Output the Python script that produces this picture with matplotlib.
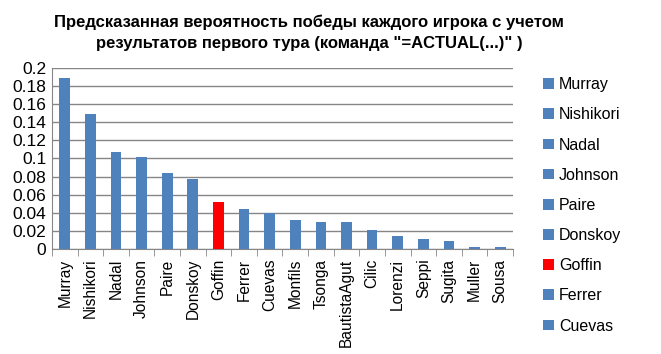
import matplotlib.pyplot as plt
from matplotlib.patches import Patch
from matplotlib.ticker import FuncFormatter, MultipleLocator

players = ["Murray", "Nishikori", "Nadal", "Johnson", "Paire", "Donskoy", "Goffin",
           "Ferrer", "Cuevas", "Monfils", "Tsonga", "BautistaAgut", "Cilic", "Lorenzi",
           "Seppi", "Sugita", "Muller", "Sousa"]
win_prob = [0.189, 0.1495, 0.1075, 0.102, 0.0843, 0.0777, 0.0516,
            0.0446, 0.0394, 0.0324, 0.0302, 0.0302, 0.0214, 0.0147,
            0.0114, 0.0092, 0.0026, 0.0026]
highlight = "Goffin"
legend_shown = 9   # the legend in the original is cut off after Cuevas

title = ('Предсказанная вероятность победы каждого игрока с учетом\n'
         'результатов первого тура (команда "=ACTUAL(...)" )')

blue = "#4F81BD"
red = "#FF0000"
colors = [red if p == highlight else blue for p in players]

plt.rcParams['font.family'] = ['Liberation Sans', 'DejaVu Sans']

fig = plt.figure(figsize=(6.61, 3.54), dpi=100)
ax = fig.add_axes([0.0787, 0.2966, 0.6973, 0.5114])

x = range(len(players))
ax.bar(x, win_prob, width=0.42, color=colors, zorder=3)

ax.set_xlim(-0.5, len(players) - 0.5)
ax.set_ylim(0, 0.2)
ax.yaxis.set_major_locator(MultipleLocator(0.02))
ax.yaxis.set_major_formatter(FuncFormatter(lambda v, pos: f"{round(v, 2):g}"))
ax.grid(axis="y", color="#868686", linewidth=1, zorder=0)

ax.set_xticks(list(x))
ax.set_xticklabels(players, rotation=90, fontsize=11.2)
ax.set_xticks([i + 0.5 for i in range(-1, len(players))], minor=True)
ax.tick_params(axis="x", which="major", length=0, pad=7)
ax.tick_params(axis="x", which="minor", length=5, color="#868686")
ax.tick_params(axis="y", length=0, labelsize=12.5, pad=4)

for side in ["top", "right"]:
    ax.spines[side].set_visible(False)
for side in ["left", "bottom"]:
    ax.spines[side].set_color("#868686")

handles = [Patch(facecolor=c, edgecolor="none") for c in colors[:legend_shown]]
fig.legend(handles, players[:legend_shown], loc="upper left",
           bbox_to_anchor=(0.812, 0.80), frameon=False, fontsize=11.5,
           handlelength=0.65, handleheight=0.65, handletextpad=0.35,
           labelspacing=0.95, borderaxespad=0)

fig.text(0.468, 0.958, title, ha="center", va="top", fontsize=12,
         fontweight="bold", linespacing=1.5)

fig.savefig("out.png", dpi=100)
